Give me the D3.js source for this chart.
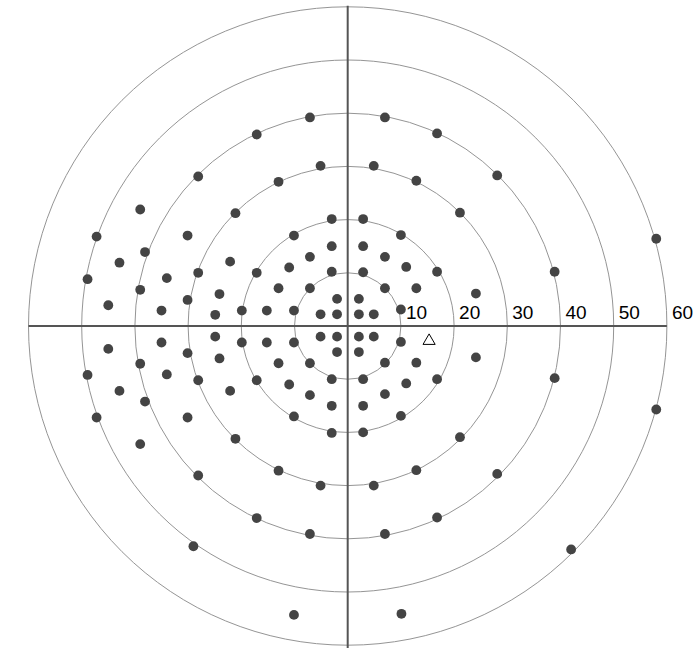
<!DOCTYPE html>
<html><head><meta charset="utf-8">
<script src="https://cdn.jsdelivr.net/npm/d3@7"></script>
<style>html,body{margin:0;padding:0;background:#fff;}svg{display:block;}</style>
</head><body>
<svg id="chart" width="694" height="648"></svg>
<script>
// Eccentricity rings (degrees) and their labels
const rings = [10, 20, 30, 40, 50, 60];
const ringLabels = ["10", "20", "30", "40", "50", "60"];

// Test point locations in degrees (x: horizontal, y: vertical)
const pointsX = [
  // upper left
  -7.1,-17.1,-5.1,-13.0,-28.1,-21.1,-39.0,-3.0,-10.1,-47.2,-30.1,-38.1,-3.0,-7.1,-42.9,-22.1,-11.0,-48.9,-34.0,-28.1,-17.1,-3.0,-13.0,-7.1,-39.0,-24.1,-30.1,-2.0,-45.0,-35.0,-24.9,-19.9,-15.2,-10.1,-5.1,-2.0,
  // upper right
  7.0,16.8,28.1,4.9,12.9,21.1,58.0,2.9,10.0,2.9,7.0,11.0,16.8,38.9,2.9,7.0,12.9,24.1,2.1,2.1,4.9,10.0,
  // lower left
  -24.9,-19.9,-15.2,-10.1,-5.1,-2.0,-35.0,-45.0,-30.1,-2.0,-39.0,-24.1,-13.0,-7.1,-48.9,-34.0,-28.1,-17.1,-11.0,-3.0,-42.9,-22.1,-7.1,-38.1,-3.0,-47.2,-30.1,-10.1,-3.0,-39.0,-21.1,-13.0,-5.1,-28.1,-17.1,-7.1,-29.0,-10.1,
  // lower right
  2.1,4.9,10.0,2.1,7.0,12.9,24.1,2.9,11.0,16.8,38.9,58.0,7.0,2.9,10.0,2.9,21.1,12.9,4.9,28.1,16.8,7.0,42.0,10.1
];
const pointsY = [
  39.2,36.0,30.1,27.1,28.1,21.2,21.9,20.1,17.0,16.8,17.0,13.9,15.0,13.0,11.9,12.1,11.0,8.8,9.0,10.0,10.0,10.2,7.1,7.1,6.8,6.0,4.9,5.1,3.9,2.9,2.1,2.9,2.9,2.9,2.2,2.2,
  39.2,36.2,28.3,30.1,27.3,21.3,16.4,20.1,17.1,15.0,13.0,11.1,10.2,10.2,10.1,7.1,7.1,6.1,5.1,2.2,2.2,3.1,
  -2.0,-3.1,-3.1,-3.1,-2.0,-2.0,-3.1,-4.3,-5.1,-4.9,-7.1,-6.1,-7.0,-7.0,-9.2,-9.1,-10.2,-10.2,-11.0,-10.0,-12.2,-12.2,-13.0,-14.2,-15.0,-17.2,-17.2,-17.0,-20.1,-22.2,-21.2,-27.2,-30.0,-28.1,-36.1,-39.1,-41.4,-54.3,
  -2.0,-2.0,-3.0,-4.9,-6.9,-6.9,-5.9,-10.0,-10.8,-10.0,-9.8,-15.7,-12.8,-15.0,-16.9,-20.0,-20.9,-27.1,-30.0,-27.8,-36.0,-39.1,-42.0,-54.1
];
// Blind spot marker (degrees)
const blindSpot = [15.3, -2.8];

const svg = d3.select("#chart");
const cx = 347.7, cy = 326, R = 319.2;
const x = d3.scaleLinear().domain([-60, 60]).range([cx - R, cx + R]);
const y = d3.scaleLinear().domain([-60, 60]).range([cy + R, cy - R]);
const r = d3.scaleLinear().domain([0, 60]).range([0, R]);

// rings
svg.append("g").selectAll("circle").data(rings).join("circle")
  .attr("cx", x(0)).attr("cy", y(0)).attr("r", d => r(d))
  .attr("fill", "none").attr("stroke", "#959595").attr("stroke-width", 1);

// axes
svg.append("line").attr("x1", x(-60)).attr("x2", x(60)).attr("y1", y(0)).attr("y2", y(0))
  .attr("stroke", "#555").attr("stroke-width", 2);
svg.append("line").attr("x1", x(0)).attr("x2", x(0)).attr("y1", y(60) - 1).attr("y2", 648)
  .attr("stroke", "#555").attr("stroke-width", 2);

// ring labels
svg.append("g").selectAll("text").data(rings).join("text")
  .attr("x", d => x(d) + 5).attr("y", y(0) - 7)
  .attr("font-family", "Liberation Sans, Arial, sans-serif").attr("font-size", 19)
  .attr("fill", "#000")
  .text((d, i) => ringLabels[i]);

// points
const pts = pointsX.map((v, i) => [v, pointsY[i]]);
svg.append("g").selectAll("circle").data(pts).join("circle")
  .attr("cx", d => x(d[0])).attr("cy", d => y(d[1])).attr("r", 4.9)
  .attr("fill", "#444");

// blind spot triangle
svg.append("path")
  .attr("d", d3.symbol(d3.symbolTriangle, 64)())
  .attr("transform", `translate(${x(blindSpot[0])},${y(blindSpot[1])})`)
  .attr("fill", "#fff").attr("stroke", "#000").attr("stroke-width", 1);
</script>
</body></html>
